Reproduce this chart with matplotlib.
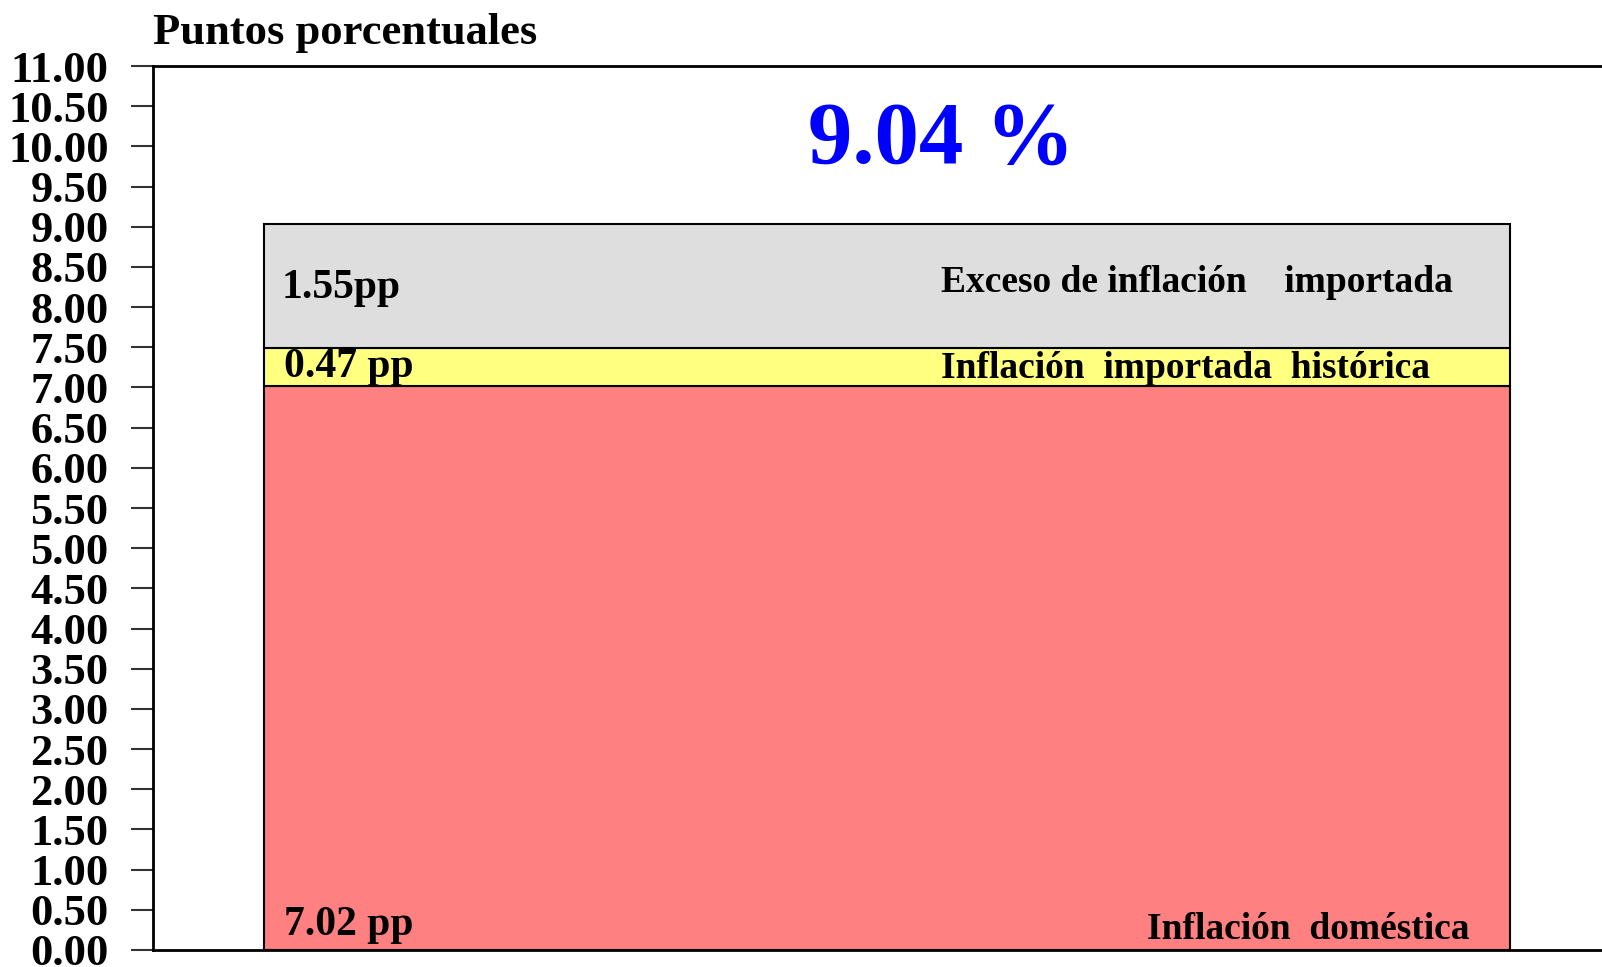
import matplotlib
matplotlib.use("Agg")
import matplotlib.pyplot as plt
from matplotlib import rcParams

rcParams['font.family'] = 'Liberation Serif'
rcParams['font.weight'] = 'bold'

# data: stacked components of inflation (percentage points)
components = ['Inflación  doméstica', 'Inflación  importada  histórica',
              'Exceso de inflación    importada']
values = [7.02, 0.47, 1.55]
value_labels = ['7.02 pp', '0.47 pp', '1.55pp']
colors = ['#FF8080', '#FFFF80', '#DEDEDE']
total_label = '9.04 %'
yticks = [i * 0.5 for i in range(23)]

fig = plt.figure(figsize=(16.02, 9.67), dpi=100)
ax = fig.add_axes([0.0955, 0.0176, 0.92, 0.9141])

bottom = 0
for v, c in zip(values, colors):
    ax.bar(0.498, v, width=0.846, bottom=bottom, color=c, edgecolor='black', linewidth=1.5)
    bottom += v

ax.set_xlim(0, 1)
ax.set_ylim(0, 11)
ax.set_yticks(yticks)
ax.set_yticklabels([f'{t:.2f}' for t in yticks], fontsize=32, fontweight='bold')
ax.set_xticks([])
ax.tick_params(axis='y', length=16, width=1.5, color='#333333', pad=16)
for s in ['left', 'top', 'bottom']:
    ax.spines[s].set_linewidth(2)
ax.spines['right'].set_visible(False)

# segment labels
ax.text(0.087, 8.24, value_labels[2], fontsize=30, va='center', ha='left')
ax.text(0.535, 8.31, components[2], fontsize=27, va='center', ha='left')
ax.text(0.089, 7.25, value_labels[1], fontsize=30, va='center', ha='left')
ax.text(0.535, 7.24, components[1], fontsize=27, va='center', ha='left')
ax.text(0.089, 0.31, value_labels[0], fontsize=30, va='center', ha='left')
ax.text(0.893, 0.25, components[0], fontsize=27, va='center', ha='right')

ax.text(0.535, 10.07, total_label, fontsize=64, color='#0000FF', ha='center', va='center')

fig.text(0.0955, 0.966, 'Puntos porcentuales', fontsize=32, fontweight='bold',
         ha='left', va='center')

fig.savefig('out.png', dpi=100)
